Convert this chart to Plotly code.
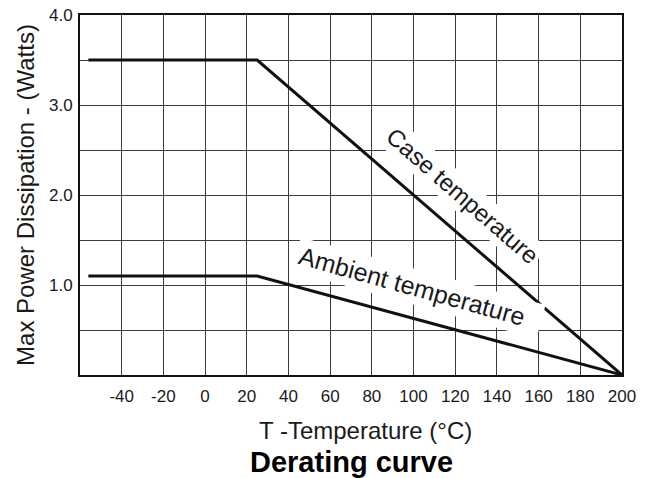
import plotly.graph_objects as go

# Data
case_temp = [-56, 25, 200]
case_power = [3.5, 3.5, 0.0]
amb_temp = [-56, 25, 200]
amb_power = [1.1, 1.1, 0.0]

x_ticks = [-40, -20, 0, 20, 40, 60, 80, 100, 120, 140, 160, 180, 200]
x_ticktext = ["-40", "-20", "0", "20", "40", "60", "80", "100", "120", "140", "160", "180", "200"]
y_ticks = [0.5, 1.0, 1.5, 2.0, 2.5, 3.0, 3.5, 4.0]
y_ticktext = ["", "1.0", "", "2.0", "", "3.0", "", "4.0"]

FONT = "Liberation Sans, Arial, sans-serif"
INK = "#1a1a1a"
GRID = "#3c3c3c"

fig = go.Figure()
fig.add_trace(go.Scatter(x=case_temp, y=case_power, mode="lines",
                         line=dict(color="#111111", width=3), showlegend=False,
                         hoverinfo="skip"))
fig.add_trace(go.Scatter(x=amb_temp, y=amb_power, mode="lines",
                         line=dict(color="#111111", width=3), showlegend=False,
                         hoverinfo="skip"))

fig.add_annotation(x=123.5, y=2.0, xref="x", yref="y", text="Case temperature",
                   textangle=41, showarrow=False, bgcolor="white", borderpad=2,
                   font=dict(family=FONT, size=24, color=INK))
fig.add_annotation(x=102.5, y=0.965, xref="x", yref="y",
                   text="Ambient temperature&nbsp;&nbsp;",
                   textangle=15.5, showarrow=False, bgcolor="white", borderpad=3,
                   font=dict(family=FONT, size=25, color=INK))
# x-axis title (placed as annotation, slightly right of centre as in the reference)
fig.add_annotation(x=0.527, y=-0.155, xref="paper", yref="paper", text="T -Temperature (°C)",
                   showarrow=False, xanchor="center", yanchor="middle",
                   font=dict(family=FONT, size=24, color=INK))
fig.add_annotation(x=0.5, y=-0.242, xref="paper", yref="paper", text="<b>Derating curve</b>",
                   showarrow=False, xanchor="center", yanchor="middle",
                   font=dict(family=FONT, size=29, color="#000000"))

fig.update_xaxes(range=[-60, 200], tickvals=x_ticks, ticktext=x_ticktext, showgrid=True,
                 gridcolor=GRID, gridwidth=1, zeroline=False, showline=True,
                 linecolor="#111111", linewidth=2, mirror=True, ticks="",
                 ticklabelstandoff=5, automargin=False,
                 tickfont=dict(family=FONT, size=17, color=INK))
fig.update_yaxes(range=[0, 4], tickvals=y_ticks, ticktext=y_ticktext, showgrid=True,
                 gridcolor=GRID, gridwidth=1, zeroline=False, showline=True,
                 linecolor="#111111", linewidth=2, mirror=True, ticks="",
                 ticklabelstandoff=2, automargin=False,
                 tickfont=dict(family=FONT, size=17, color=INK),
                 title=dict(text="Max Power Dissipation - (Watts)", standoff=8,
                            font=dict(family=FONT, size=24, color=INK)))

fig.update_layout(width=646, height=478, margin=dict(l=80, r=24, t=15, b=103, autoexpand=False),
                  paper_bgcolor="white", plot_bgcolor="white")

fig.write_html("out.html", config={"displayModeBar": False},
               post_script="document.body.style.margin='0';")
